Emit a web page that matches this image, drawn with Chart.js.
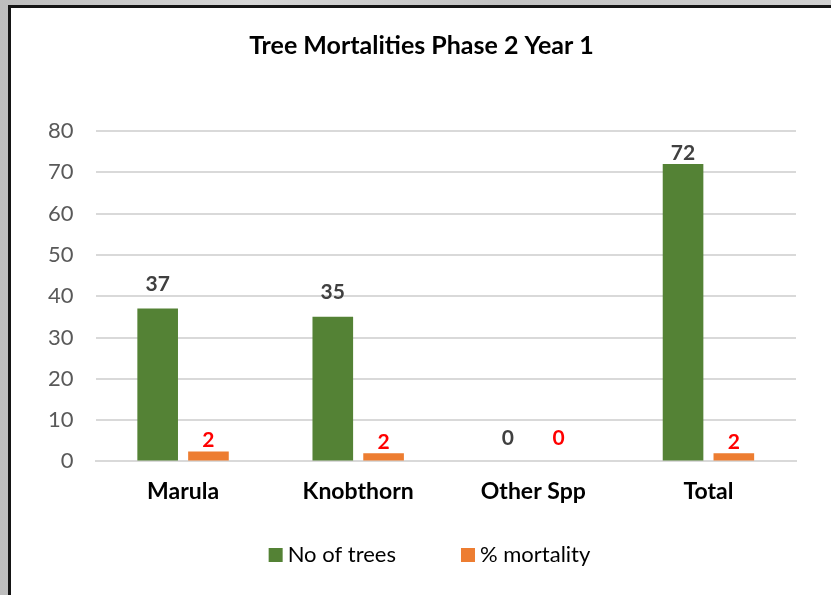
<!DOCTYPE html>
<html>
<head>
<meta charset="utf-8">
<script src="https://cdn.jsdelivr.net/npm/chart.js@4"></script>
<style>
  html, body { margin: 0; padding: 0; width: 831px; height: 595px; overflow: hidden; }
  body { background: linear-gradient(90deg, #bdbdbd, #d6d6d6 30%, #c2c2c2 60%, #d0d0d0); }
  #frame { position: absolute; left: 8px; top: 5px; width: 830px; height: 590px; overflow: hidden;
           background: #fff; border-left: 3px solid #151515; border-top: 3px solid #151515; box-sizing: border-box; }
  #wrap { position: absolute; left: 0; top: 0; width: 821px; height: 587px; }
</style>
</head>
<body>
<div id="frame"><div id="wrap"><canvas id="chart"></canvas></div></div>
<script>
  const categories = ['Marula', 'Knobthorn', 'Other Spp', 'Total'];
  const noOfTrees = [37, 35, 0, 72];
  const pctMortality = [2.4, 2.0, 0, 2.0];
  const yTicks = [0, 10, 20, 30, 40, 50, 60, 70, 80];

  const FONT = 'Lato, "Liberation Sans", sans-serif';

  // labels sit a little higher on some bars, like in the original
  const labelLift = [[24, 25, 23, 11], [11, 11, 23, 11]];
  const labelColor = ['#404040', '#ff0000'];

  const barLabels = {
    id: 'barLabels',
    afterDatasetsDraw(chart) {
      const ctx = chart.ctx;
      ctx.save();
      ctx.font = 'bold 21px ' + FONT;
      ctx.textAlign = 'center';
      ctx.textBaseline = 'middle';
      chart.data.datasets.forEach((ds, di) => {
        chart.getDatasetMeta(di).data.forEach((bar, i) => {
          ctx.fillStyle = labelColor[di];
          ctx.fillText(Math.round(ds.data[i]), bar.x, bar.y - labelLift[di][i]);
        });
      });
      ctx.restore();
    },
  };

  // simple legend under the axis, spaced like the Excel one
  const bottomLegend = {
    id: 'bottomLegend',
    afterDraw(chart) {
      const ctx = chart.ctx;
      const box = 14, gap = 5, itemGap = 65;
      ctx.save();
      ctx.font = '22px ' + FONT;
      ctx.textBaseline = 'middle';
      const items = chart.data.datasets.map((ds) => ({ text: ds.label, color: ds.backgroundColor, w: ctx.measureText(ds.label).width }));
      const total = items.reduce((a, it) => a + box + gap + it.w, 0) + itemGap * (items.length - 1);
      let x = chart.width / 2 + 8 - total / 2;
      const y = chart.height - 40;
      items.forEach((it) => {
        ctx.fillStyle = it.color;
        ctx.fillRect(x, y - box / 2, box, box);
        ctx.fillStyle = '#000';
        ctx.fillText(it.text, x + box + gap, y);
        x += box + gap + it.w + itemGap;
      });
      ctx.restore();
    },
  };

  new Chart(document.getElementById('chart'), {
    type: 'bar',
    data: {
      labels: categories,
      datasets: [
        { label: 'No of trees', data: noOfTrees, backgroundColor: '#548235', categoryPercentage: 0.58, barPercentage: 0.8 },
        { label: '% mortality', data: pctMortality, backgroundColor: '#ed7d31', categoryPercentage: 0.58, barPercentage: 0.8 },
      ],
    },
    options: {
      responsive: true,
      maintainAspectRatio: false,
      animation: false,
      layout: { padding: { left: 36, right: 36, top: 0, bottom: 74 } },
      plugins: {
        title: { display: true, text: 'Tree Mortalities Phase 2 Year 1', color: '#000', font: { family: FONT, size: 25, weight: 'bold' }, padding: { top: 23, bottom: 70 } },
        legend: { display: false },
        tooltip: { enabled: false },
      },
      scales: {
        x: {
          grid: { display: false, drawTicks: false },
          border: { color: '#d9d9d9', width: 2 },
          ticks: { color: '#000', font: { family: FONT, size: 23, weight: 'bold' }, padding: 16 },
        },
        y: {
          min: 0, max: 80,
          afterFit: (s) => { s.width = 48.5; },
          afterBuildTicks: (s) => { s.ticks = yTicks.map((v) => ({ value: v })); },
          grid: { color: '#d9d9d9', lineWidth: 2, drawTicks: false },
          border: { display: false },
          ticks: { color: '#595959', font: { family: FONT, size: 22 }, padding: 22 },
        },
      },
    },
    plugins: [barLabels, bottomLegend],
  });
</script>
</body>
</html>
